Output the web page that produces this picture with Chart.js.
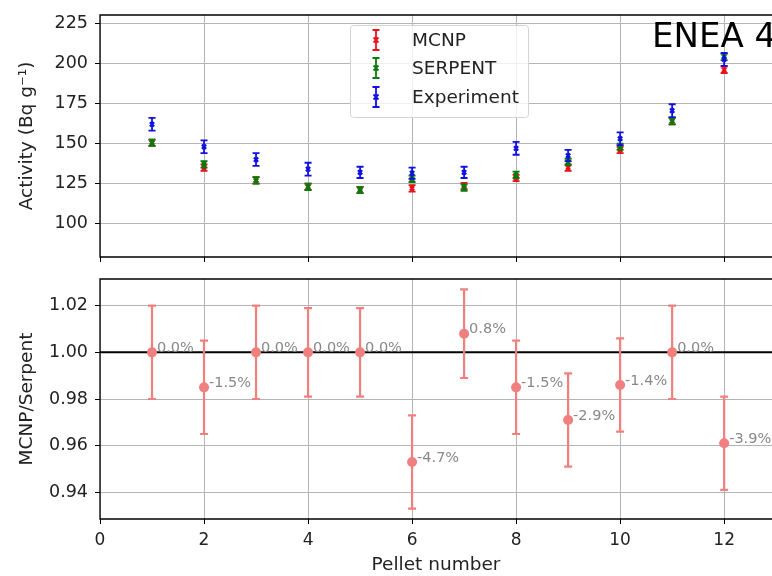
<!DOCTYPE html>
<html>
<head>
<meta charset="utf-8">
<script src="https://cdn.jsdelivr.net/npm/chart.js@4/dist/chart.umd.min.js"></script>
<style>
  body { margin: 0; background: #fff; }
  #wrap { position: relative; width: 772px; height: 576px; overflow: hidden; }
  #top, #bottom { position: absolute; left: 0; }
  #top { top: 0; }
  #bottom { top: 270px; }
</style>
</head>
<body>
<div id="wrap">
  <canvas id="top" width="772" height="270"></canvas>
  <canvas id="bottom" width="772" height="306"></canvas>
</div>
<script>
// ===================== data
const pellets = [1, 2, 3, 4, 5, 6, 7, 8, 9, 10, 11, 12];
const mcnp = [150.5, 135, 127, 123, 121, 122, 123.5, 128.5, 135, 146, 164, 196];
const serpent = [150.5, 137, 127, 123, 121, 128, 122.5, 130.5, 138.5, 148, 164, 204];
const experiment = [162, 148, 140, 134, 132, 131.5, 132, 147, 142.5, 153, 170.5, 202.5];
const mcnpErr = [2, 2, 2, 2, 2, 2, 2, 2, 2, 2, 2, 2];
const serpentErr = [2, 2, 2, 2, 2, 2, 2, 2, 2, 2, 2, 2];
const experimentErr = [4, 4, 4, 4, 3.5, 3.5, 3.5, 4, 3.5, 4, 4, 4];

const ratio = [1.000, 0.985, 1.000, 1.000, 1.000, 0.953, 1.008, 0.985, 0.971, 0.986, 1.000, 0.961];
const ratioErr = [0.02, 0.02, 0.02, 0.019, 0.019, 0.02, 0.019, 0.02, 0.02, 0.02, 0.02, 0.02];
const ratioLabels = ["0.0%", "-1.5%", "0.0%", "0.0%", "0.0%", "-4.7%", "0.8%", "-1.5%", "-2.9%", "-1.4%", "0.0%", "-3.9%"];

const xTicks = [0, 2, 4, 6, 8, 10, 12];
const activityTicks = [100, 125, 150, 175, 200, 225];
const ratioTicks = [0.94, 0.96, 0.98, 1.00, 1.02];
const ratioRef = 1.0;

const FONT = "'DejaVu Sans', sans-serif";
const GRID = "#b4b4b4";

function pts(ys) {
  return pellets.map((x, i) => ({ x: x, y: ys[i] }));
}

// ===================== plugins
const errorBars = {
  id: "errorBars",
  afterDatasetDraw(chart, args) {
    const ds = chart.data.datasets[args.index];
    if (!ds.errors) return;
    const ctx = chart.ctx;
    const xs = chart.scales.x, ys = chart.scales.y;
    ctx.save();
    ctx.strokeStyle = ds.borderColor;
    ctx.lineWidth = ds.barWidth;
    ds.data.forEach((p, i) => {
      const x = xs.getPixelForValue(p.x);
      const y1 = ys.getPixelForValue(p.y - ds.errors[i]);
      const y2 = ys.getPixelForValue(p.y + ds.errors[i]);
      ctx.beginPath();
      ctx.moveTo(x, y1); ctx.lineTo(x, y2);
      ctx.moveTo(x - ds.cap, y1); ctx.lineTo(x + ds.cap, y1);
      ctx.moveTo(x - ds.cap, y2); ctx.lineTo(x + ds.cap, y2);
      ctx.stroke();
    });
    ctx.restore();
  }
};

const frame = {
  id: "frame",
  beforeDatasetsDraw(chart, args, opts) {
    const a = chart.chartArea, ctx = chart.ctx;
    ctx.save();
    if (opts.refLine !== undefined) {
      const y = chart.scales.y.getPixelForValue(opts.refLine);
      ctx.strokeStyle = "#000";
      ctx.lineWidth = 2;
      ctx.beginPath(); ctx.moveTo(a.left, y); ctx.lineTo(a.right, y); ctx.stroke();
    }
    ctx.strokeStyle = "#000";
    ctx.lineWidth = 1.3;
    ctx.beginPath();
    ctx.moveTo(a.right + 2, a.top); ctx.lineTo(a.left, a.top);
    ctx.lineTo(a.left, a.bottom); ctx.lineTo(a.right + 2, a.bottom);
    ctx.stroke();
    ctx.restore();
  }
};

const topExtras = {
  id: "topExtras",
  afterDraw(chart) {
    const ctx = chart.ctx;
    ctx.save();
    // title text
    ctx.fillStyle = "#000";
    ctx.font = "34px " + FONT;
    ctx.textBaseline = "alphabetic";
    ctx.fillText("ENEA 4", 652, 47);
    // legend box
    const bx = 350, by = 25, bw = 178, bh = 92;
    ctx.fillStyle = "rgba(255,255,255,0.8)";
    ctx.strokeStyle = "#d4d4d4";
    ctx.lineWidth = 1;
    ctx.beginPath();
    ctx.roundRect(bx + 0.5, by + 0.5, bw, bh, 3);
    ctx.fill(); ctx.stroke();
    const items = chart.data.datasets;
    const rows = [40, 68, 97];
    ctx.font = "18.5px " + FONT;
    ctx.textBaseline = "middle";
    items.forEach((ds, i) => {
      const x = 376, y = rows[i];
      ctx.strokeStyle = ds.borderColor;
      ctx.lineWidth = 1.8;
      ctx.beginPath();
      ctx.moveTo(x, y - 10); ctx.lineTo(x, y + 10);
      ctx.moveTo(x - 3.5, y - 10); ctx.lineTo(x + 3.5, y - 10);
      ctx.moveTo(x - 3.5, y + 10); ctx.lineTo(x + 3.5, y + 10);
      ctx.moveTo(x - 2.5, y - 2.5); ctx.lineTo(x + 2.5, y + 2.5);
      ctx.moveTo(x - 2.5, y + 2.5); ctx.lineTo(x + 2.5, y - 2.5);
      ctx.stroke();
      ctx.fillStyle = "#222";
      ctx.fillText(ds.label, 412, y + 1);
    });
    ctx.restore();
  }
};

const pctLabels = {
  id: "pctLabels",
  afterDatasetsDraw(chart) {
    const ctx = chart.ctx;
    const xs = chart.scales.x, ys = chart.scales.y;
    ctx.save();
    ctx.fillStyle = "#888";
    ctx.font = "14.5px " + FONT;
    ctx.textBaseline = "middle";
    pellets.forEach((p, i) => {
      ctx.fillText(ratioLabels[i], xs.getPixelForValue(p) + 5, ys.getPixelForValue(ratio[i]) - 4);
    });
    ctx.restore();
  }
};

// ===================== charts
function xScale(showTicks, height) {
  return {
    type: "linear",
    min: 0,
    max: 12.92,
    afterBuildTicks: (s) => { s.ticks = xTicks.map(v => ({ value: v })); },
    afterFit: (s) => { s.height = height; s.paddingLeft = 0; s.paddingRight = 0; },
    grid: { color: GRID, tickColor: "#000", tickLength: 5 },
    border: { display: false },
    ticks: { display: showTicks, font: { family: FONT, size: 17 }, color: "#222", padding: 6, maxRotation: 0 },
    title: {
      display: showTicks,
      text: "Pellet number",
      font: { family: FONT, size: 18.5 },
      color: "#222",
      padding: { top: 0, bottom: 0 }
    }
  };
}

function yScale(min, max, tickVals, title, fmt) {
  return {
    min: min,
    max: max,
    afterBuildTicks: (s) => { s.ticks = tickVals.map(v => ({ value: v })); },
    afterFit: (s) => { s.width = 100; s.paddingTop = 0; s.paddingBottom = 0; },
    grid: { color: GRID, tickColor: "#000", tickLength: 5 },
    border: { display: false },
    ticks: { font: { family: FONT, size: 17.5 }, color: "#222", padding: 7, callback: fmt },
    title: {
      display: true,
      text: title,
      font: { family: FONT, size: 18.5 },
      color: "#222",
      padding: { top: 16, bottom: 0 }
    }
  };
}

function series(label, ys, errs, color, order) {
  return {
    label: label,
    data: pts(ys),
    errors: errs,
    borderColor: color,
    backgroundColor: color,
    pointStyle: "crossRot",
    pointRadius: 3,
    borderWidth: 2.2,
    barWidth: 1.8,
    cap: 3.5,
    order: order
  };
}

new Chart(document.getElementById("top"), {
  type: "scatter",
  data: {
    datasets: [
      series("MCNP", mcnp, mcnpErr, "#e8101a", 3),
      series("SERPENT", serpent, serpentErr, "#0a7a0a", 2),
      series("Experiment", experiment, experimentErr, "#1010e0", 1)
    ]
  },
  options: {
    responsive: false,
    animation: false,
    layout: { autoPadding: false, padding: { top: 15, right: 0, left: 0, bottom: 0 } },
    plugins: { legend: { display: false }, tooltip: { enabled: false } },
    scales: {
      x: xScale(false, 13),
      y: yScale(79.2, 230.2, activityTicks, "Activity (Bq g\u207B\u00B9)", (v) => v)
    }
  },
  plugins: [frame, errorBars, topExtras]
});

new Chart(document.getElementById("bottom"), {
  type: "scatter",
  data: {
    datasets: [{
      label: "MCNP/Serpent",
      data: pts(ratio),
      errors: ratioErr,
      borderColor: "#f08080",
      backgroundColor: "#f08080",
      pointStyle: "circle",
      pointRadius: 5,
      borderWidth: 0,
      barWidth: 2.2,
      cap: 4
    }]
  },
  options: {
    responsive: false,
    animation: false,
    layout: { autoPadding: false, padding: { top: 9, right: 0, left: 0, bottom: 0 } },
    plugins: { legend: { display: false }, tooltip: { enabled: false }, frame: { refLine: ratioRef } },
    scales: {
      x: xScale(true, 57),
      y: yScale(0.92854, 1.03146, ratioTicks, "MCNP/Serpent", (v) => v.toFixed(2))
    }
  },
  plugins: [frame, errorBars, pctLabels]
});
</script>
</body>
</html>
